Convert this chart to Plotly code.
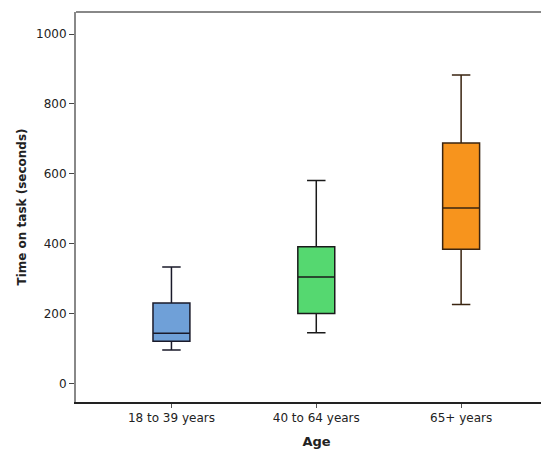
import plotly.graph_objects as go

categories = ["18 to 39 years", "40 to 64 years", "65+ years"]
lower_whisker = [96, 145, 226]
q1 = [121, 200, 384]
median = [144, 305, 502]
q3 = [230, 391, 688]
upper_whisker = [333, 581, 883]
fill_colors = ["#6fa0d8", "#55d870", "#f7941d"]
line_colors = ["#1a1a2a", "#1a1a1a", "#3a2410"]

fig = go.Figure()
for i, cat in enumerate(categories):
    fig.add_trace(go.Box(
        x=[cat], q1=[q1[i]], median=[median[i]], q3=[q3[i]],
        lowerfence=[lower_whisker[i]], upperfence=[upper_whisker[i]],
        fillcolor=fill_colors[i],
        line=dict(color=line_colors[i], width=1.5),
        width=0.255, whiskerwidth=0.5, boxpoints=False,
        showlegend=False, name=cat,
    ))

# page body has an 8px default margin, so offsets are compensated here
fig.update_layout(
    width=549, height=450,
    margin=dict(l=67.5, r=0, t=3.5, b=56),
    paper_bgcolor="white", plot_bgcolor="white",
    font=dict(family="DejaVu Sans", size=12, color="#222"),
    xaxis=dict(
        type="category", range=[-0.659, 2.662],
        showgrid=False, zeroline=False,
        showline=True, linecolor="#222", linewidth=1.5,
        ticks="outside", ticklen=4, tickcolor="#555",
        title=dict(text="<b>Age</b>", font=dict(size=13), standoff=13),
        tickfont=dict(size=12),
        automargin=False,
    ),
    yaxis=dict(
        range=[-53, 1063],
        tickvals=[0, 200, 400, 600, 800, 1000],
        showgrid=False, zeroline=False,
        showline=True, linecolor="#888", linewidth=2, mirror=False,
        ticks="outside", ticklen=5, tickcolor="#444",
        title=dict(text="<b>Time on task (seconds)</b>", font=dict(size=12), standoff=7),
        tickfont=dict(size=12),
        automargin=False,
    ),
    shapes=[dict(type="line", xref="paper", yref="paper", x0=0, x1=1, y0=1, y1=1,
                 line=dict(color="#888", width=2))],
)

fig.write_html("out.html")
